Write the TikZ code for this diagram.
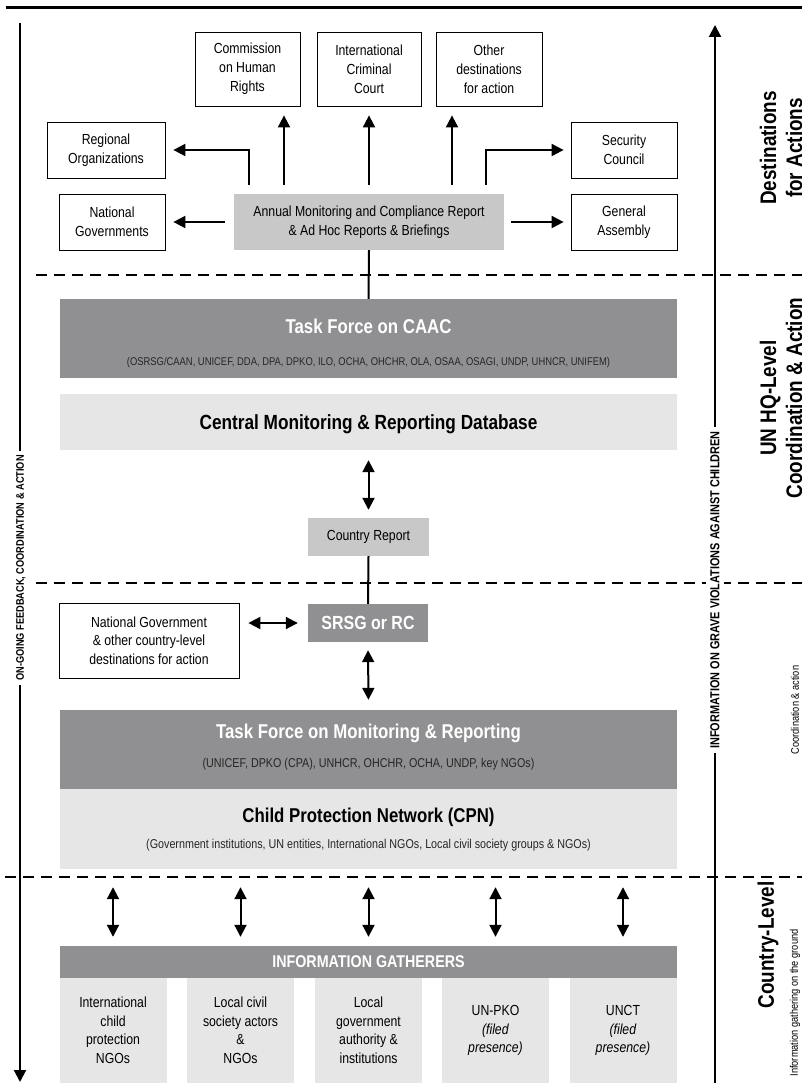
\documentclass[tikz,border=0pt]{standalone}
\usepackage{fontspec}
\setmainfont[FakeStretch=0.84]{Liberation Sans}
\usetikzlibrary{arrows.meta,calc}
\definecolor{dkg}{HTML}{909092}
\definecolor{mdg}{HTML}{C8C8C9}
\definecolor{ltg}{HTML}{E6E6E7}
\begin{document}
\begin{tikzpicture}[x=1pt,y=-1pt,
  wbox/.style={draw=black, line width=0.8pt, fill=white, align=center, inner sep=0pt, font=\fontsize{14.6}{19}\selectfont},
  gbox/.style={fill=mdg, align=center, inner sep=0pt, font=\fontsize{14.6}{19}\selectfont},
  band/.style={inner sep=0pt, minimum width=617pt},
  subbox/.style={fill=ltg, align=center, inner sep=0pt, minimum width=107pt, minimum height=105pt, font=\fontsize{14.6}{18.5}\selectfont},
  ttl/.style={inner sep=0pt, font=\fontsize{20}{22}\selectfont\bfseries},
  sub/.style={inner sep=0pt, text=black!85, font=\fontsize{12.8}{14}\selectfont},
  arr/.style={line width=2pt, -{Triangle[length=12pt,width=12pt]}},
  darr/.style={line width=2pt, {Triangle[length=12pt,width=12pt]}-{Triangle[length=12pt,width=12pt]}},
  ln/.style={line width=2pt},
  dline/.style={line width=2pt, dash pattern=on 11pt off 7pt},
  side/.style={rotate=90, align=center, inner sep=0pt, font=\fontsize{22.5}{26}\selectfont\bfseries},
  sidesm/.style={rotate=90, inner sep=0pt, font=\fontsize{11}{12}\selectfont},
  vlab/.style={rotate=90, inner sep=4pt, fill=white, font=\fontsize{11}{12}\selectfont\bfseries}
]
\useasboundingbox (0,0) rectangle (802,1083);
% top rule
\coordinate (tl) at (6,7.5);
\coordinate (tr) at (802,7.5);
\draw[line width=3pt] (tl) -- (tr);

% dashed separators
\coordinate (d1a) at (36,275); \coordinate (d1b) at (802,275);
\coordinate (d2a) at (36,583); \coordinate (d2b) at (802,583);
\coordinate (d3a) at (5,877);  \coordinate (d3b) at (802,877);
\draw[dline] (d1a) -- (d1b);
\draw[dline] (d2a) -- (d2b);
\draw[dline] (d3a) -- (d3b);

% left feedback line
\coordinate (ltop) at (20,23);
\coordinate (lbot) at (20,1082);
\node[vlab] (lt) at (21,568) {ON-GOING FEEDBACK, COORDINATION \& ACTION};
\draw[ln] (ltop) -- (lt.east -| ltop);
\draw[arr] (lt.west -| lbot) -- (lbot);

% right information line
\coordinate (rtop) at (715,25);
\coordinate (rbot) at (715,1083);
\node[vlab, font=\fontsize{13}{14}\selectfont\bfseries] (rt) at (715,590) {INFORMATION ON GRAVE VIOLATIONS AGAINST CHILDREN};
\draw[ln] (rbot) -- (rt.west);
\draw[arr] (rt.east) -- (rtop);

% side labels
\node[side] (s1) at (781,148) {Destinations\\for Actions};
\node[side] (s2) at (781,398) {UN HQ-Level\\Coordination \& Action};
\node[side] (s3) at (768,945) {Country-Level};
\node[sidesm] (s4) at (795,710) {Coordination \& action};
\node[sidesm] (s5) at (795,1003) {Information gathering on the ground};

% destination boxes
\node[wbox, minimum width=105pt, minimum height=74pt] (com) at (247.5,69) {Commission\\on Human\\Rights};
\node[wbox, minimum width=104pt, minimum height=74pt] (icc) at (369,69) {International\\Criminal\\Court};
\node[wbox, minimum width=106pt, minimum height=74pt] (oth) at (489,69) {Other\\destinations\\for action};
\node[wbox, minimum width=118pt, minimum height=56pt] (reg) at (106,150) {Regional\\Organizations};
\node[wbox, minimum width=106pt, minimum height=56pt] (nat) at (112,222) {National\\Governments};
\node[wbox, minimum width=106pt, minimum height=56pt] (sec) at (624,150) {Security\\Council};
\node[wbox, minimum width=106pt, minimum height=56pt] (gen) at (624,222) {General\\Assembly};
\node[gbox, minimum width=270pt, minimum height=56pt] (ann) at (369,222) {Annual Monitoring and Compliance Report\\\& Ad Hoc Reports \& Briefings};

% arrows from annual report
\draw[arr, shorten <=9pt, shorten >=8pt] ([xshift=-120pt]ann.north) |- (reg.east);
\draw[arr, shorten <=9pt, shorten >=9pt] ([xshift=36.5pt]com.south |- ann.north) -- ([xshift=36.5pt]com.south);
\draw[arr, shorten <=9pt, shorten >=9pt] (ann.north) -- (icc.south);
\draw[arr, shorten <=9pt, shorten >=9pt] ([xshift=-37pt]oth.south |- ann.north) -- ([xshift=-37pt]oth.south);
\draw[arr, shorten <=9pt, shorten >=7pt] ([xshift=117pt]ann.north) |- (sec.west);
\draw[arr, shorten <=9pt, shorten >=8pt] (ann.west) -- (nat.east);
\draw[arr, shorten <=7pt, shorten >=7pt] (ann.east) -- (gen.west);

% UN HQ level
\node[band, fill=dkg, minimum height=79pt] (tfc) at (368.5,338.5) {};
\node[ttl, text=white] (tfct) at ($(tfc.north)+(0,28)$) {Task Force on CAAC};
\node[sub, font=\fontsize{11.2}{13}\selectfont] (tfcs) at ($(tfc.north)+(0,64)$) {(OSRSG/CAAN, UNICEF, DDA, DPA, DPKO, ILO, OCHA, OHCHR, OLA, OSAA, OSAGI, UNDP, UHNCR, UNIFEM)};
\draw[ln] (ann.south) -- (tfc.north);

\node[band, fill=ltg, minimum height=56pt] (db) at (368.5,422) {};
\node[ttl, font=\fontsize{20.5}{22}\selectfont\bfseries] (dbt) at ($(db.center)+(0,2)$) {Central Monitoring \& Reporting Database};

\node[gbox, minimum width=121pt, minimum height=38pt] (cr) at (368.5,537) {Country Report};
\draw[darr, shorten <=10pt, shorten >=8pt] (db.south) -- (cr.north);

% country level
\node[band, fill=dkg, minimum width=120pt, minimum height=38pt, font=\fontsize{19}{20}\selectfont\bfseries, text=white] (srsg) at (368,623) {SRSG or RC};
\draw[ln] (cr.south) -- (srsg.north);
\node[wbox, minimum width=180pt, minimum height=75pt, font=\fontsize{14.6}{18.3}\selectfont] (nat2) at (149,640.5) {National Government\\\& other country-level\\destinations for action};
\draw[darr, shorten <=10pt, shorten >=9pt] (srsg.west) -- (srsg.west -| nat2.east);

\node[band, fill=dkg, minimum height=79pt] (tfm) at (368.5,749.5) {};
\node[ttl, text=white] (tfmt) at ($(tfm.north)+(0,24)$) {Task Force on Monitoring \& Reporting};
\node[sub] (tfms) at ($(tfm.north)+(0,54)$) {(UNICEF, DPKO (CPA), UNHCR, OHCHR, OCHA, UNDP, key NGOs)};
\draw[darr, shorten <=8pt, shorten >=10pt] (srsg.south) -- (tfm.north);

\node[band, fill=ltg, minimum height=80pt] (cpn) at (368.5,829) {};
\node[ttl] (cpnt) at ($(cpn.north)+(0,29)$) {Child Protection Network (CPN)};
\node[sub] (cpns) at ($(cpn.north)+(0,56)$) {(Government institutions, UN entities, International NGOs, Local civil society groups \& NGOs)};

% information gatherers
\node[band, fill=dkg, minimum height=32pt, font=\fontsize{17}{18}\selectfont\bfseries, text=white] (ig) at (368.5,962) {INFORMATION GATHERERS};
\node[subbox] (g1) at (113,1030.5) {International\\child\\protection\\NGOs};
\node[subbox] (g2) at (240.5,1030.5) {Local civil\\society actors\\\&\\NGOs};
\node[subbox] (g3) at (368.5,1030.5) {Local\\government\\authority \&\\institutions};
\node[subbox] (g4) at (495.5,1030.5) {UN-PKO\\\textit{(filed}\\\textit{presence)}};
\node[subbox] (g5) at (623,1030.5) {UNCT\\\textit{(filed}\\\textit{presence)}};
\foreach \g in {g1,g2,g3,g4,g5}
  \draw[darr, shorten <=18pt, shorten >=9pt] (cpn.south -| \g.north) -- (ig.north -| \g.north);
\end{tikzpicture}
\end{document}
